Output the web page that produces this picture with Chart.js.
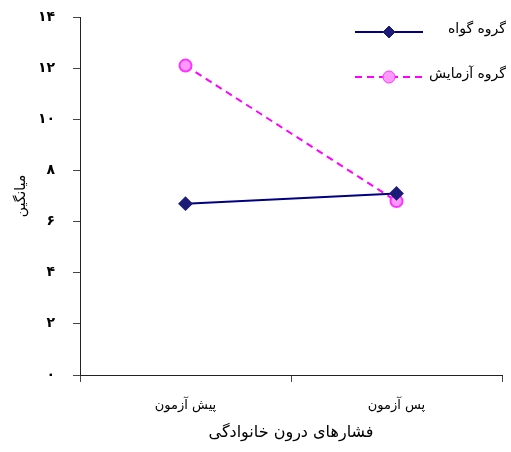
<!DOCTYPE html>
<html>
<head>
<meta charset="utf-8">
<script src="https://cdn.jsdelivr.net/npm/chart.js@4.4.0/dist/chart.umd.min.js"></script>
<style>
  html, body { margin: 0; padding: 0; background: #fff; }
  #wrap { width: 511px; height: 452px; position: relative; }
</style>
</head>
<body>
<div id="wrap"><canvas id="chart"></canvas></div>
<script>
// chart data
const categories = ['پیش آزمون', 'پس آزمون'];
const controlGroup = [6.7, 7.1];
const experimentGroup = [12.1, 6.8];
const seriesNames = ['گروه گواه', 'گروه آزمایش'];
const yTickLabels = ['۰', '۲', '۴', '۶', '۸', '۱۰', '۱۲', '۱۴'];

const fontFamily = "'DejaVu Sans', sans-serif";

// legend drawn by hand: line with marker in the middle, text on the right
const sideLegend = {
    id: 'sideLegend',
    afterDraw(chart) {
        const ctx = chart.ctx;
        const rows = [32, 77];
        const sizes = [6, 6];
        chart.data.datasets.forEach(function (ds, i) {
            const y = rows[i];
            const r = sizes[i];
            ctx.save();
            ctx.strokeStyle = ds.borderColor;
            ctx.lineWidth = ds.borderWidth;
            ctx.setLineDash(ds.borderDash || []);
            ctx.beginPath();
            ctx.moveTo(355, y);
            ctx.lineTo(423, y);
            ctx.stroke();
            ctx.setLineDash([]);
            ctx.lineWidth = 1;
            ctx.fillStyle = ds.pointBackgroundColor;
            ctx.strokeStyle = ds.pointBorderColor;
            ctx.beginPath();
            if (ds.pointStyle === 'circle') {
                ctx.arc(389, y, r, 0, Math.PI * 2);
            } else {
                ctx.moveTo(389, y - r);
                ctx.lineTo(389 + r, y);
                ctx.lineTo(389, y + r);
                ctx.lineTo(389 - r, y);
                ctx.closePath();
            }
            ctx.fill();
            ctx.stroke();
            ctx.fillStyle = '#000';
            ctx.font = '14px ' + fontFamily;
            ctx.textAlign = 'right';
            ctx.textBaseline = 'middle';
            ctx.direction = 'rtl';
            ctx.fillText(ds.label, 506, y - 3);
            ctx.restore();
        });
    }
};

const ctx = document.getElementById('chart').getContext('2d');
const chart = new Chart(ctx, {
    type: 'line',
    data: {
        labels: categories,
        datasets: [{
            label: seriesNames[0],
            data: controlGroup,
            borderColor: '#000080',
            borderWidth: 2,
            pointStyle: 'rectRot',
            pointRadius: 6,
            pointHoverRadius: 6,
            pointBackgroundColor: '#1c1c78',
            pointBorderColor: '#1c1c78',
            tension: 0
        }, {
            label: seriesNames[1],
            data: experimentGroup,
            borderColor: '#ff00ff',
            borderWidth: 2,
            borderDash: [7, 5],
            pointStyle: 'circle',
            pointRadius: 6,
            pointHoverRadius: 6,
            pointBackgroundColor: '#ff99ff',
            pointBorderColor: '#ff33ff',
            tension: 0
        }]
    },
    options: {
        responsive: true,
        maintainAspectRatio: false,
        animation: false,
        layout: { padding: { top: 17, right: 9, left: 0, bottom: 0 } },
        plugins: {
            legend: { display: false },
            tooltip: { enabled: false }
        },
        scales: {
            x: {
                offset: true,
                grid: {
                    drawOnChartArea: false,
                    drawTicks: true,
                    tickLength: 7,
                    color: '#444',
                    offset: true
                },
                border: { color: '#222', width: 1 },
                ticks: {
                    color: '#000',
                    font: { family: fontFamily, size: 13 },
                    padding: 16
                },
                title: {
                    display: true,
                    text: 'فشارهای درون خانوادگی',
                    color: '#000',
                    font: { family: fontFamily, size: 16 },
                    padding: { top: 4, bottom: 10 }
                },
                afterFit(scale) { scale.height = 77; }
            },
            y: {
                min: 0,
                max: 14,
                grid: {
                    drawOnChartArea: false,
                    drawTicks: true,
                    tickLength: 7,
                    color: '#444'
                },
                border: { color: '#222', width: 1 },
                ticks: {
                    stepSize: 2,
                    color: '#000',
                    font: { family: fontFamily, size: 14, weight: 'bold' },
                    padding: 18,
                    callback: function (value) { return yTickLabels[value / 2]; }
                },
                title: {
                    display: true,
                    text: 'میانگین',
                    color: '#000',
                    font: { family: fontFamily, size: 14 },
                    padding: { top: 13 }
                },
                afterFit(scale) {
                    scale.width = 80;
                    scale.paddingTop = 0;
                    scale.paddingBottom = 0;
                }
            }
        }
    },
    plugins: [sideLegend]
});
</script>
</body>
</html>
